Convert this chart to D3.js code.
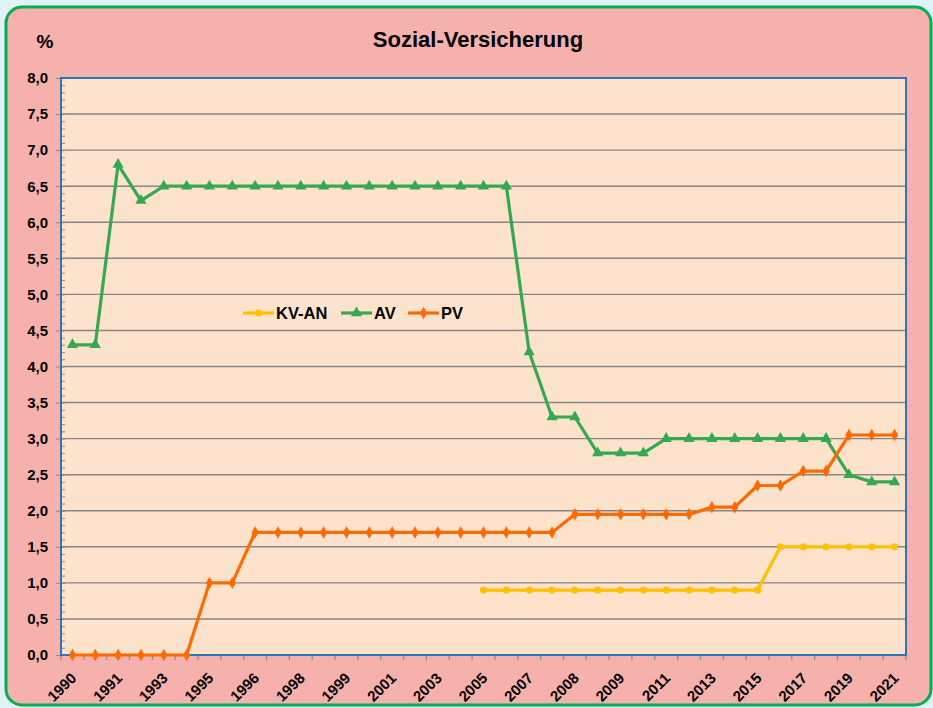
<!DOCTYPE html>
<html><head><meta charset="utf-8">
<script src="https://cdn.jsdelivr.net/npm/d3@7"></script>
<style>html,body{margin:0;padding:0;background:#e1f2f7;}svg{display:block;font-family:"Liberation Sans",Arial,sans-serif;}</style>
</head><body>
<svg id="chart" width="933" height="708"></svg>
<script>
const categories = ["1990","1991a","1991","1992","1993","1994","1995","1995b","1996","1997","1998","1998b","1999","2000","2001","2002","2003","2004","2005","2006","2007","2008a","2008","2009a","2009","2010","2011","2012","2013","2014","2015","2016","2017","2018","2019","2020","2021"];
const tickLabels = ["1990","","1991","","1993","","1995","","1996","","1998","","1999","","2001","","2003","","2005","","2007","","2008","","2009","","2011","","2013","","2015","","2017","","2019","","2021"];
const kvAN = [null,null,null,null,null,null,null,null,null,null,null,null,null,null,null,null,null,null,0.9,0.9,0.9,0.9,0.9,0.9,0.9,0.9,0.9,0.9,0.9,0.9,0.9,1.5,1.5,1.5,1.5,1.5,1.5];
const av = [4.3,4.3,6.8,6.3,6.5,6.5,6.5,6.5,6.5,6.5,6.5,6.5,6.5,6.5,6.5,6.5,6.5,6.5,6.5,6.5,4.2,3.3,3.3,2.8,2.8,2.8,3.0,3.0,3.0,3.0,3.0,3.0,3.0,3.0,2.5,2.4,2.4];
const pv = [0,0,0,0,0,0,1.0,1.0,1.7,1.7,1.7,1.7,1.7,1.7,1.7,1.7,1.7,1.7,1.7,1.7,1.7,1.7,1.95,1.95,1.95,1.95,1.95,1.95,2.05,2.05,2.35,2.35,2.55,2.55,3.05,3.05,3.05];
const yTicks = [0,0.5,1,1.5,2,2.5,3,3.5,4,4.5,5,5.5,6,6.5,7,7.5,8];
const seriesNames = ["KV-AN","AV","PV"];
const seriesColors = ["#ffc000","#36a852","#ff6a00"];

const svg = d3.select("#chart");
const L = 61, R = 906, T = 78, B = 655;
const x = d3.scaleBand().domain(categories).range([L, R]).padding(0);
const bw = x.bandwidth();
const cx = c => x(c) + bw / 2;
const y = d3.scaleLinear().domain([0, 8]).range([B, T]);
const locale = d3.formatLocale({decimal: ",", thousands: ".", grouping: [3], currency: ["", "€"]});
const fmt = locale.format(".1f");

// outer panel
svg.append("rect").attr("x", 6).attr("y", 7).attr("width", 925).attr("height", 698)
  .attr("rx", 16).attr("fill", "#f7b1ac").attr("stroke", "#00b050").attr("stroke-width", 3);

// plot background
svg.append("rect").attr("x", L).attr("y", T).attr("width", R - L).attr("height", B - T).attr("fill", "#fee3cc");

// gridlines
svg.append("g").selectAll("line").data(yTicks.filter(v => v > 0 && v < 8)).join("line")
  .attr("x1", L).attr("x2", R).attr("y1", d => y(d)).attr("y2", d => y(d))
  .attr("stroke", "#868686").attr("stroke-width", 1.4);

// y axis (major ticks outside)
const yAxis = svg.append("g").attr("transform", `translate(${L},0)`)
  .call(d3.axisLeft(y).tickValues(yTicks).tickFormat(fmt).tickSize(5).tickPadding(8));
yAxis.select(".domain").remove();
yAxis.selectAll(".tick line").attr("stroke", "#8a8a8a");
yAxis.selectAll(".tick text").attr("font-size", 15).attr("font-weight", "bold").attr("fill", "#000")
  .attr("font-family", "Liberation Sans, Arial, sans-serif");

// minor ticks inside
const minor = d3.range(0, 81).map(i => i / 10);
const yMinor = svg.append("g").attr("transform", `translate(${L},0)`)
  .call(d3.axisRight(y).tickValues(minor).tickFormat("").tickSize(4));
yMinor.select(".domain").remove();
yMinor.selectAll(".tick line").attr("stroke", "#8a8a8a");

// x ticks at category boundaries
const bounds = categories.map(c => x(c)).concat([R]);
svg.append("g").selectAll("line").data(bounds).join("line")
  .attr("x1", d => d).attr("x2", d => d).attr("y1", B).attr("y2", B + 5)
  .attr("stroke", "#8a8a8a").attr("stroke-width", 1.2);

// x labels
svg.append("g").selectAll("text").data(categories.map((c, i) => ({c, lab: tickLabels[i]})).filter(d => d.lab))
  .join("text")
  .attr("transform", d => `translate(${cx(d.c) + 5},${B + 24}) rotate(-45)`)
  .attr("text-anchor", "end").attr("font-size", 15).attr("font-weight", "bold").attr("fill", "#000")
  .text(d => d.lab);

// plot border
svg.append("rect").attr("x", L).attr("y", T).attr("width", R - L).attr("height", B - T)
  .attr("fill", "none").attr("stroke", "#2e75b6").attr("stroke-width", 2);

// series
const allSeries = [kvAN, av, pv];
const markers = [d3.symbolCircle, d3.symbolTriangle, d3.symbolDiamond];
const markerSizes = [40, 55, 45];
allSeries.forEach((vals, si) => {
  const data = categories.map((c, i) => ({c, v: vals[i]}));
  const line = d3.line().defined(d => d.v != null).x(d => cx(d.c)).y(d => y(d.v));
  svg.append("path").datum(data).attr("d", line).attr("fill", "none")
    .attr("stroke", seriesColors[si]).attr("stroke-width", 3.2).attr("stroke-linejoin", "round");
  svg.append("g").selectAll("path").data(data.filter(d => d.v != null)).join("path")
    .attr("transform", d => `translate(${cx(d.c)},${y(d.v)})`)
    .attr("d", d3.symbol().type(markers[si]).size(markerSizes[si]))
    .attr("fill", seriesColors[si]);
});

// legend
const legendX = [243, 341, 408];
seriesNames.forEach((name, i) => {
  const g = svg.append("g").attr("transform", `translate(${legendX[i]},313)`);
  g.append("line").attr("x1", 0).attr("x2", 31).attr("y1", 0).attr("y2", 0)
    .attr("stroke", seriesColors[i]).attr("stroke-width", 3.2);
  g.append("path").attr("transform", "translate(15.5,0)")
    .attr("d", d3.symbol().type(markers[i]).size(markerSizes[i])).attr("fill", seriesColors[i]);
  g.append("text").attr("x", 33).attr("y", 6).attr("font-size", 16.5).attr("font-weight", "bold")
    .attr("fill", "#000").text(name);
});

// title and unit
svg.append("text").attr("x", 478).attr("y", 47).attr("text-anchor", "middle")
  .attr("font-size", 22).attr("font-weight", "bold").attr("fill", "#000").text("Sozial-Versicherung");
svg.append("text").attr("x", 45).attr("y", 48).attr("text-anchor", "middle")
  .attr("font-size", 19).attr("font-weight", "bold").attr("fill", "#000").text("%");
</script>
</body></html>
